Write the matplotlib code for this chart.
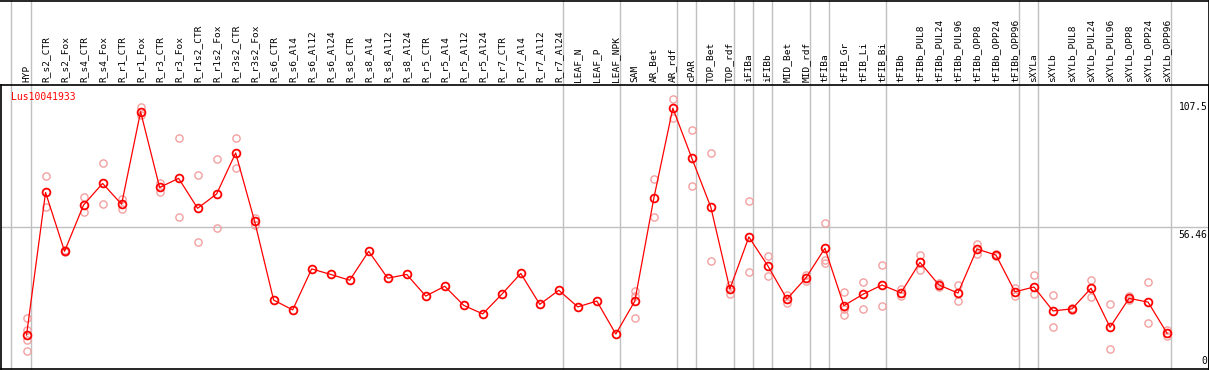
import numpy as np
import matplotlib
matplotlib.use("Agg")
import matplotlib.pyplot as plt
import matplotlib.transforms as mtransforms

gene = "Lus10041933"

samples = ["HYP", "R_s2_CTR", "R_s2_Fox", "R_s4_CTR", "R_s4_Fox", "R_r1_CTR", "R_r1_Fox",
           "R_r3_CTR", "R_r3_Fox", "R_r1s2_CTR", "R_r1s2_Fox", "R_r3s2_CTR", "R_r3s2_Fox",
           "R_s6_CTR", "R_s6_Al4", "R_s6_Al12", "R_s6_Al24", "R_s8_CTR", "R_s8_Al4",
           "R_s8_Al12", "R_s8_Al24", "R_r5_CTR", "R_r5_Al4", "R_r5_Al12", "R_r5_Al24",
           "R_r7_CTR", "R_r7_Al4", "R_r7_Al12", "R_r7_Al24", "LEAF_N", "LEAF_P", "LEAF_NPK",
           "SAM", "AR_Bet", "AR_rdf", "cPAR", "TOP_Bet", "TOP_rdf", "iFIBa", "iFIBb",
           "MID_Bet", "MID_rdf", "tFIBa", "tFIB_Gr", "tFIB_Li", "tFIB_Bi", "tFIBb",
           "tFIBb_PUL8", "tFIBb_PUL24", "tFIBb_PUL96", "tFIBb_OPP8", "tFIBb_OPP24",
           "tFIBb_OPP96", "sXYLa", "sXYLb", "sXYLb_PUL8", "sXYLb_PUL24", "sXYLb_PUL96",
           "sXYLb_OPP8", "sXYLb_OPP24", "sXYLb_OPP96"]

# mean expression per sample
means = [13.5, 70.2, 46.8, 65.2, 73.8, 65.5, 102.3, 72.2, 75.8, 63.9, 69.6, 85.9, 58.7,
         27.4, 23.5, 39.8, 37.6, 35.3, 46.8, 36.1, 37.6, 29.0, 32.9, 25.3, 21.9,
         29.7, 38.0, 25.7, 31.3, 24.7, 27.0, 13.9,
         27.0, 67.9, 103.7, 83.8, 64.3, 31.8, 52.5, 41.0, 27.8, 36.2, 48.0, 25.2, 29.7,
         33.4, 30.3, 42.4, 33.4, 30.2, 47.7, 45.3, 30.7, 32.6, 23.1, 23.9, 32.1, 16.6,
         28.1, 26.6, 14.2]

# individual replicates (sample index, value)
rep_idx = [0, 0, 0, 0, 1, 1, 2, 2, 3, 3, 4, 4, 5, 5, 6, 6, 7, 7, 8, 8, 9, 9, 10, 10,
           11, 11, 12, 12,
           32, 32, 32, 33, 33, 34, 34, 35, 35, 36, 36, 37, 37, 38, 38, 39, 39, 40, 40,
           41, 41, 42, 42, 42, 43, 43, 43, 44, 44, 45, 45, 46, 46, 47, 47, 48, 48,
           49, 49, 50, 50, 51, 51, 52, 52, 53, 53, 54, 54, 55, 55, 56, 56, 57, 57,
           58, 58, 59, 59, 60, 60]
rep_val = [20.2, 15.5, 11.5, 7.2, 76.6, 64.4, 47.2, 46.4, 68.4, 62.3, 81.9, 65.5,
           67.6, 63.6, 104.3, 101.0, 74.1, 70.5, 91.7, 60.3, 77.0, 50.4, 83.4, 55.9,
           91.7, 79.8, 60.2, 57.3,
           31.0, 29.2, 20.4, 75.4, 60.3, 107.5, 99.7, 94.9, 72.6, 85.8, 42.8, 33.4, 29.7,
           66.7, 38.4, 44.9, 36.9, 29.6, 26.1, 37.3, 35.0, 57.9, 43.3, 42.0,
           30.5, 23.9, 21.3, 34.5, 23.7, 41.2, 24.9, 31.8, 29.1, 45.3, 39.2, 32.7, 34.0,
           33.4, 27.0, 49.6, 45.6, 45.8, 44.8, 32.3, 29.1, 37.3, 30.0, 29.4, 16.6,
           24.2, 23.6, 35.3, 28.5, 25.7, 7.8, 29.1, 27.4, 34.5, 18.2, 15.5, 13.2]

# group separators (drawn just right of these samples)
separators = [-1, 0, 28, 31, 34, 35, 37, 38, 39, 41, 42, 45, 52, 53, 60]
yticks = [0, 56.46, 107.5]

W, H = 1209, 370
fig = plt.figure(figsize=(W / 100, H / 100), dpi=100)
top_px, bot_px = 85, 369
ax = fig.add_axes([0.5 / W, (H - bot_px) / H, 1208 / W, (bot_px - top_px) / H])

x = np.arange(len(samples))
ymax = 112.92
ax.set_xlim(-1.37, 62.18)
ax.set_ylim(0, ymax)

grid_c = "#c0c0c0"
ext = bot_px / (bot_px - top_px)
for s in separators:
    off = 0.17 if s == -1 else 0.23
    ax.axvline(s + off, ymin=0, ymax=ext, color=grid_c, lw=1, clip_on=False, zorder=1)
ax.axhline(56.46, color=grid_c, lw=1, zorder=1)

ax.plot(rep_idx, rep_val, linestyle="none", marker="o", ms=5.2, mfc="none",
        mec="#f2a0a0", mew=1.0, zorder=2)
ax.plot(x, means, color="red", lw=0.9, zorder=3)
ax.plot(x, means, linestyle="none", marker="o", ms=5.6, mfc="none",
        mec="red", mew=1.3, zorder=4)

mono = "DejaVu Sans Mono"
trans = mtransforms.blended_transform_factory(ax.transData, ax.transAxes)
for i, name in enumerate(samples):
    ax.text(i, 1 + 3 / (bot_px - top_px), name, rotation=90, ha="center", va="bottom",
            fontsize=6.8, family=mono, transform=trans, clip_on=False)

ax.text(10 / 1208, 1 - 7 / (bot_px - top_px), gene, color="red", fontsize=7,
        family=mono, transform=ax.transAxes, ha="left", va="top")

ytrans = mtransforms.blended_transform_factory(ax.transAxes, ax.transData)
for v in yticks:
    lab = "0" if v == 0 else f"{v:g}"
    if v == 0:
        ax.text(0.999, 1.0, lab, ha="right", va="bottom", fontsize=6.9, family=mono,
                transform=ytrans)
    else:
        ax.text(0.999, v - 1.2, lab, ha="right", va="top", fontsize=6.9, family=mono,
                transform=ytrans)

ax.set_xticks([])
ax.set_yticks([])
for sp in ax.spines.values():
    sp.set_color("black")
    sp.set_linewidth(1.2)

# outer frame around header
fig.add_artist(plt.Line2D([0, 1], [1 - 0.5 / H, 1 - 0.5 / H], color="black", lw=1.2))
fig.add_artist(plt.Line2D([1208.5 / W, 1208.5 / W], [0, 1], color="black", lw=1.2))

fig.savefig("out.png", dpi=100)
